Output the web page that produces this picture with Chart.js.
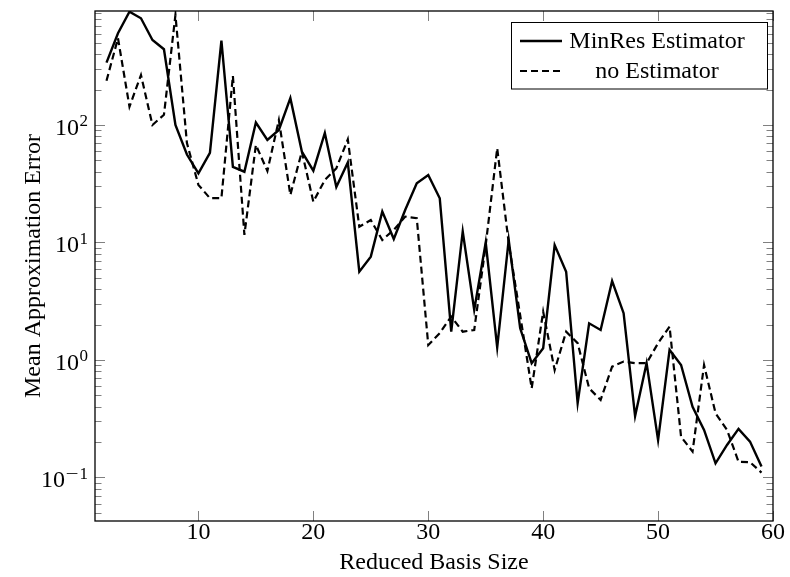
<!DOCTYPE html>
<html>
<head>
<meta charset="utf-8">
<style>
  html, body { margin: 0; padding: 0; background: #ffffff; }
  canvas { display: block; }
</style>
<script src="https://cdn.jsdelivr.net/npm/chart.js@4/dist/chart.umd.min.js"></script>
</head>
<body>
<canvas id="chart" width="790" height="577"></canvas>
<script>
// Reduced basis sizes (x) and mean approximation errors for both runs
const basisSize = [2, 3, 4, 5, 6, 7, 8, 9, 10, 11, 12, 13, 14, 15, 16, 17, 18, 19, 20,
  21, 22, 23, 24, 25, 26, 27, 28, 29, 30, 31, 32, 33, 34, 35, 36, 37, 38, 39, 40,
  41, 42, 43, 44, 45, 46, 47, 48, 49, 50, 51, 52, 53, 54, 55, 56, 57, 58, 59];

const minResError = [339, 603, 920, 809, 529, 441, 100, 56, 38.8, 58,
  522, 44, 40, 105, 74.5, 90.6, 169, 59.3, 40.8, 85.5,
  29.7, 48, 5.64, 7.57, 18.3, 10.7, 19, 31.9, 37.5, 23.8,
  1.74, 12.4, 2.67, 10, 1.28, 10.5, 1.86, 0.94, 1.26, 9.5,
  5.64, 0.43, 2.05, 1.8, 4.7, 2.5, 0.333, 0.94, 0.208, 1.22,
  0.906, 0.4, 0.254, 0.132, 0.189, 0.259, 0.202, 0.124];

const noEstimatorError = [238, 547, 143, 266, 100, 122, 863, 70, 30.9, 23.8,
  23.8, 261, 11.6, 67.6, 40.6, 110, 25.4, 59.3, 22.2, 34,
  42.8, 75.3, 13.6, 15.5, 10.5, 12.8, 16.6, 16.1, 1.34, 1.69,
  2.34, 1.74, 1.8, 9.5, 63.4, 9.9, 2.4, 0.574, 2.58, 0.82,
  1.74, 1.39, 0.574, 0.457, 0.877, 0.968, 0.94, 0.94, 1.39, 1.92,
  0.222, 0.166, 0.906, 0.352, 0.254, 0.136, 0.135, 0.110];

const seriesLabels = ['MinRes Estimator', 'no Estimator'];
const xTickValues = [10, 20, 30, 40, 50, 60];
const yTickExponents = [-1, 0, 1, 2];

const SERIF = '"Liberation Serif", "Times New Roman", Times, serif';
const DASH = [7, 4];

function toPoints(xs, ys) {
  return xs.map((x, i) => ({ x: x, y: ys[i] }));
}

// Frame, inward ticks, y labels with exponents and the boxed legend
const axisDecor = {
  id: 'axisDecor',
  afterDatasetsDraw(chart) {
    const ctx = chart.ctx;
    const area = chart.chartArea;
    const xs = chart.scales.x;
    const ys = chart.scales.y;
    ctx.save();

    // tick marks
    ctx.strokeStyle = '#808080';
    ctx.lineWidth = 1;
    ctx.beginPath();
    xTickValues.forEach(v => {
      const px = Math.round(xs.getPixelForValue(v)) + 0.5;
      ctx.moveTo(px, area.bottom); ctx.lineTo(px, area.bottom - 10);
      ctx.moveTo(px, area.top); ctx.lineTo(px, area.top + 10);
    });
    const eMin = Math.floor(Math.log10(ys.min));
    const eMax = Math.ceil(Math.log10(ys.max));
    for (let e = eMin; e <= eMax; e++) {
      for (let k = 1; k <= 9; k++) {
        const v = k * Math.pow(10, e);
        if (v < ys.min || v > ys.max) continue;
        const py = Math.round(ys.getPixelForValue(v)) + 0.5;
        const len = k === 1 ? 10 : 6.5;
        ctx.moveTo(area.left, py); ctx.lineTo(area.left + len, py);
        ctx.moveTo(area.right, py); ctx.lineTo(area.right - len, py);
      }
    }
    ctx.stroke();

    // frame
    ctx.strokeStyle = '#000000';
    ctx.lineWidth = 1.3;
    ctx.strokeRect(area.left, area.top, area.right - area.left, area.bottom - area.top);

    // y tick labels 10^n, exponent set as a superscript
    ctx.fillStyle = '#000000';
    ctx.textBaseline = 'alphabetic';
    const right = 88;
    yTickExponents.forEach(e => {
      const py = ys.getPixelForValue(Math.pow(10, e));
      ctx.font = '17px ' + SERIF;
      ctx.textAlign = 'right';
      const digits = String(Math.abs(e));
      let expW = ctx.measureText(digits).width;
      ctx.fillText(digits, right, py + 1.5);
      if (e < 0) {
        // wide math minus in front of the exponent digits
        const minusW = ctx.measureText('\u2212').width;
        const stretch = 1.35;
        ctx.save();
        ctx.translate(right - expW - 1, py + 1.5);
        ctx.scale(stretch, 1);
        ctx.fillText('\u2212', 0, 0);
        ctx.restore();
        expW += minusW * stretch + 1;
      }
      ctx.font = '24px ' + SERIF;
      ctx.fillText('10', right - expW - 0.5, py + 10);
    });

    // legend
    const box = { left: 511.5, top: 22.5, width: 256, height: 66.5 };
    ctx.fillStyle = '#ffffff';
    ctx.fillRect(box.left, box.top, box.width, box.height);
    ctx.strokeStyle = '#000000';
    ctx.lineWidth = 1;
    ctx.strokeRect(box.left, box.top, box.width, box.height);
    const rows = [41, 71];
    chart.data.datasets.forEach((ds, i) => {
      const y = rows[i];
      ctx.save();
      ctx.strokeStyle = ds.borderColor;
      ctx.lineWidth = ds.borderWidth;
      ctx.setLineDash(ds.borderDash || []);
      ctx.beginPath();
      ctx.moveTo(520, y); ctx.lineTo(562, y);
      ctx.stroke();
      ctx.restore();
      ctx.fillStyle = '#000000';
      ctx.font = '24px ' + SERIF;
      ctx.textAlign = 'center';
      ctx.fillText(ds.label, 657, y + 7);
    });

    ctx.restore();
  }
};

new Chart(document.getElementById('chart'), {
  type: 'line',
  data: {
    datasets: [
      {
        label: seriesLabels[0],
        data: toPoints(basisSize, minResError),
        borderColor: '#000000',
        borderWidth: 2.4,
        pointRadius: 0,
        tension: 0,
        fill: false
      },
      {
        label: seriesLabels[1],
        data: toPoints(basisSize, noEstimatorError),
        borderColor: '#000000',
        borderWidth: 2.2,
        borderDash: DASH,
        pointRadius: 0,
        tension: 0,
        fill: false
      }
    ]
  },
  options: {
    responsive: false,
    animation: false,
    devicePixelRatio: 1,
    layout: { padding: { top: 11, right: 17, left: 0, bottom: 0 } },
    plugins: {
      legend: { display: false },
      tooltip: { enabled: false }
    },
    scales: {
      x: {
        type: 'linear',
        min: 1,
        max: 60,
        grid: { display: false, drawTicks: false },
        border: { display: false },
        afterBuildTicks: s => { s.ticks = xTickValues.map(v => ({ value: v })); },
        afterFit: s => { s.height = 56; },
        ticks: {
          color: '#000000',
          padding: 0,
          maxRotation: 0,
          autoSkip: false,
          font: { family: SERIF, size: 24, lineHeight: 1 }
        },
        title: {
          display: true,
          text: 'Reduced Basis Size',
          color: '#000000',
          padding: { top: 0, bottom: 0 },
          font: { family: SERIF, size: 24, lineHeight: 1.2 }
        }
      },
      y: {
        type: 'logarithmic',
        min: 0.0426,
        max: 933,
        grid: { display: false, drawTicks: false },
        border: { display: false },
        afterBuildTicks: s => { s.ticks = yTickExponents.map(e => ({ value: Math.pow(10, e), major: true })); },
        afterFit: s => { s.width = 95; },
        ticks: { display: false },
        title: {
          display: true,
          text: 'Mean Approximation Error',
          color: '#000000',
          padding: { top: 19, bottom: 0 },
          font: { family: SERIF, size: 24, lineHeight: 1.2 }
        }
      }
    }
  },
  plugins: [axisDecor]
});
</script>
</body>
</html>
